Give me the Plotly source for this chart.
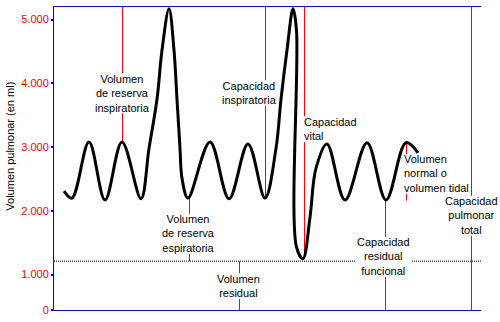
import plotly.graph_objects as go

# ---------------- data ----------------
# spirogram: time (s) and lung volume (ml)
tiempo = [1.0, 1.8, 3.5, 5.1, 6.8, 8.7, 9.5, 10.3, 10.8, 11.5, 12.0, 12.3, 12.6, 12.8, 13.4,
          15.6, 17.5, 19.4, 21.1, 22.2, 22.7, 23.3, 23.9, 24.25, 24.25, 24.9, 25.6, 26.2, 27.3,
          29.1, 31.3, 33.2, 35.2, 36.4]
volumen = [2310, 2200, 3080, 2170, 3080, 2190, 2980, 3750, 4520, 5170, 4520, 3750, 2980, 2510, 2200,
           3080, 2190, 3050, 2200, 2980, 3750, 4520, 5170, 4830, 1430, 1250, 1900, 2670, 3050,
           2170, 3070, 2170, 3070, 2910]

volumen_residual = 1210          # dotted line level (ml)
y_min, y_max = 444, 5198         # visible volume range (ml)
t_min, t_max = 0.0, 42.7         # visible time range (s)

tick_vals = [y_min, 1000, 2000, 3000, 4000, 5000]
tick_text = ["0", "1.000", "2.000", "3.000", "4.000", "5.000"]

# marker lines: time, volume from, volume to
marker_t = [6.85, 13.55, 18.55, 21.15, 25.05, 35.25, 33.15, 41.75]
marker_v0 = [y_max, 2200, volumen_residual, y_max, y_max, 3070, 2170, y_max]
marker_v1 = [3080, volumen_residual, y_min, 2200, 1250, 2160, y_min, y_min]

# label texts (one per marker line, same order)
label_text = [
    ["Volumen", "de reserva", "inspiratoria"],
    ["Volumen", "de reserva", "espiratoria"],
    ["Volumen", "residual"],
    ["Capacidad", "inspiratoria"],
    ["Capacidad", "vital"],
    ["Volumen", "normal o", "volumen tidal"],
    ["Capacidad", "residual", "funcional"],
    ["Capacidad", "pulmonar", "total"],
]

# ---------------- layout (pixel geometry) ----------------
W, H = 500, 322
L, R, T, B = 54, 19, 6, 8
PW, PH = W - L - R, H - T - B
FS = 11
LINE_H = FS * 1.3
FONT = "Liberation Sans, Arial, sans-serif"

# label placement: anchor, x pixel, y pixel of block centre
label_pos = [("center", 122, 93.75), ("center", 188.5, 236.5), ("center", 238.5, 289.75),
             ("center", 249, 93.5), ("left", 302, 130.25), ("left", 402, 175.75),
             ("center", 383.5, 260), ("center", 471, 218.25)]


def px2paper_x(px):
    return (px - L) / PW


def px2paper_y(py):
    return (H - B - py) / PH


def py2vol(py):
    return y_min + (H - B - py) / PH * (y_max - y_min)


def px2t(px):
    return t_min + (px - L) / PW * (t_max - t_min)


fig = go.Figure()
fig.add_trace(go.Scatter(x=tiempo, y=volumen, mode="lines",
                         line=dict(color="black", width=3, shape="spline"),
                         hoverinfo="skip", showlegend=False))

shapes = []
annotations = []
for t, v0, v1, lines, (anchor, lx, ly) in zip(marker_t, marker_v0, marker_v1, label_text, label_pos):
    half = (len(lines) - 1) * LINE_H / 2 + 6
    g_hi, g_lo = py2vol(ly - half), py2vol(ly + half)
    hi, lo = max(v0, v1), min(v0, v1)
    for a, b in [(hi, min(hi, g_hi)), (max(lo, g_lo), lo)]:
        if a > b:
            shapes.append(dict(type="line", xref="x", yref="y", x0=t, x1=t, y0=a, y1=b,
                               line=dict(color="#FF0000", width=1), layer="below"))
    annotations.append(dict(text="<br>".join(lines), xref="paper", yref="paper",
                            x=px2paper_x(lx), y=px2paper_y(ly), align=anchor,
                            xanchor=anchor, yanchor="middle", showarrow=False,
                            font=dict(family=FONT, size=FS, color="black")))

# dotted residual-volume line, interrupted by the "Capacidad residual funcional" label
for a, b in [(t_min, px2t(356)), (px2t(412), t_max)]:
    shapes.append(dict(type="line", xref="x", yref="y", x0=a, x1=b,
                       y0=volumen_residual, y1=volumen_residual,
                       line=dict(color="black", width=1, dash="1px,1px"), layer="below"))

annotations.append(dict(text="Volumen pulmonar (en ml)", xref="paper", yref="paper",
                        x=px2paper_x(10), y=px2paper_y(148), textangle=-90,
                        xanchor="center", yanchor="middle", showarrow=False,
                        font=dict(family=FONT, size=FS, color="black")))

fig.update_layout(
    width=W, height=H,
    margin=dict(l=L, r=R, t=T, b=B, pad=0),
    paper_bgcolor="white", plot_bgcolor="white",
    shapes=shapes, annotations=annotations,
    xaxis=dict(range=[t_min, t_max], showline=True, linecolor="#0000FF", linewidth=1,
               mirror=True, showticklabels=False, ticks="", showgrid=False, zeroline=False,
               fixedrange=True),
    yaxis=dict(range=[y_min, y_max], showline=True, linecolor="#0000FF", linewidth=1,
               mirror=False, ticks="outside", ticklen=2, tickwidth=2, tickcolor="#0000FF",
               tickvals=tick_vals, ticktext=tick_text,
               tickfont=dict(family=FONT, size=FS, color="#FF0000"),
               showgrid=False, zeroline=False, fixedrange=True),
    font=dict(family=FONT, size=FS),
)

fig.write_html("out.html")
